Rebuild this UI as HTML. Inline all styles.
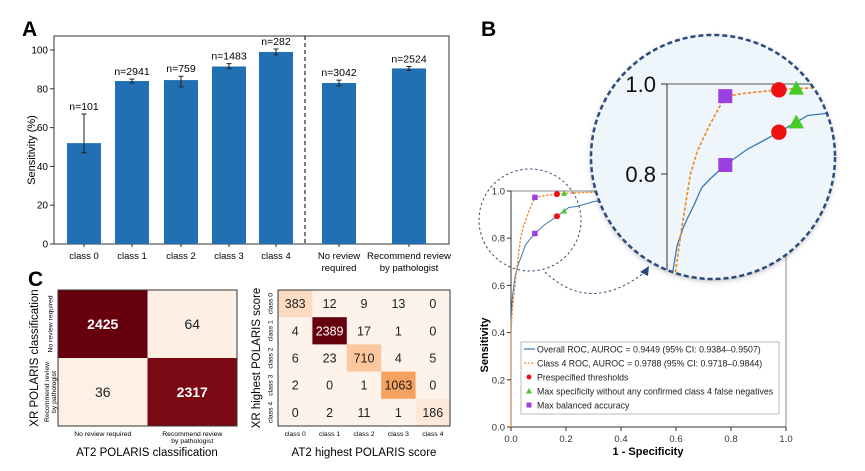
<!DOCTYPE html>
<html><head><meta charset="utf-8"><style>
html,body{margin:0;padding:0;background:#fff;width:865px;height:471px;overflow:hidden}
svg{display:block;font-family:"Liberation Sans","DejaVu Sans",sans-serif;overflow:hidden}
</style></head><body>
<svg id="fig" width="865" height="471" viewBox="0 0 865 471">
<defs>
<clipPath id="zoomClip"><circle cx="713" cy="157" r="122"/></clipPath>
<filter id="shadow" x="-10%" y="-10%" width="120%" height="120%"><feDropShadow dx="0" dy="2" stdDeviation="3" flood-color="#000" flood-opacity="0.25"/></filter>
</defs>
<g id="panelA">
<text x="22" y="36" font-size="21" font-weight="bold">A</text>
<rect x="54" y="36" width="395" height="208" fill="none" stroke="#333" stroke-width="1"/>
<g id="barsA"></g>
<line x1="305" y1="36" x2="305" y2="244" stroke="#222" stroke-width="1.2" stroke-dasharray="4,3"/>
<text transform="translate(35,150) rotate(-90)" text-anchor="middle" font-size="11">Sensitivity (%)</text>
</g>
<g id="panelC">
<text x="28" y="286" font-size="21" font-weight="bold">C</text>
<g id="cmLeft"></g>
<g id="cmRight"></g>
<text x="147" y="456" text-anchor="middle" font-size="11.5">AT2 POLARIS classification</text>
<text transform="translate(38,358) rotate(-90)" text-anchor="middle" font-size="11.5">XR POLARIS classification</text>
<text x="364" y="456" text-anchor="middle" font-size="11.5">AT2 highest POLARIS score</text>
<text transform="translate(260,358) rotate(-90)" text-anchor="middle" font-size="11.5">XR highest POLARIS score</text>
</g>
<g id="panelB">
<text x="481" y="36" font-size="21" font-weight="bold">B</text>
<g id="rocMain"></g>
<text x="648" y="455" text-anchor="middle" font-size="11" font-weight="bold">1 - Specificity</text>
<text transform="translate(488,345) rotate(-90)" text-anchor="middle" font-size="11" font-weight="bold">Sensitivity</text>
<circle cx="530" cy="220" r="51" fill="none" stroke="#3a4f7a" stroke-width="1" stroke-dasharray="2.5,2.5"/>
<path d="M545,272 Q590,315 645,272" fill="none" stroke="#3a4f7a" stroke-width="1" stroke-dasharray="2.5,2.5"/>
<polygon points="649,266 640,272 648,276" fill="#2c4a7c"/>
<g id="legendB">
<rect x="521" y="342" width="258" height="72" fill="#fff" stroke="#aaa" stroke-width="0.8"/>
<line x1="524" y1="349" x2="535" y2="349" stroke="#3c78b4" stroke-width="1.2"/>
<text x="537" y="352.5" font-size="8.8" fill="#222">Overall ROC, AUROC = 0.9449 (95% CI: 0.9384–0.9507)</text>
<line x1="524" y1="363" x2="535" y2="363" stroke="#f08a24" stroke-width="1.2" stroke-dasharray="2,1.5"/>
<text x="537" y="366.5" font-size="8.8" fill="#222">Class 4 ROC, AUROC = 0.9788 (95% CI: 0.9718–0.9844)</text>
<circle cx="529" cy="377" r="2.5" fill="#ee1111"/>
<text x="537" y="380.5" font-size="8.8" fill="#222">Prespecified thresholds</text>
<polygon points="529,388 532,393.5 526,393.5" fill="#44cc22"/>
<text x="537" y="394.5" font-size="8.8" fill="#222">Max specificity without any confirmed class 4 false negatives</text>
<rect x="526.5" y="402.5" width="5" height="5" fill="#9b3fe0"/>
<text x="537" y="408.5" font-size="8.8" fill="#222">Max balanced accuracy</text>
</g>
<g id="zoomG"></g>
</g>
</svg>
<script>
const barCategories = ["class 0","class 1","class 2","class 3","class 4","No review|required","Recommend review|by pathologist"];
const barValues = [52, 84, 84.5, 91.5, 99, 83, 90.5];
const barErrLow = [47, 83, 81, 90.5, 97.5, 81.5, 89.5];
const barErrHigh = [67, 85, 86.5, 93, 100.5, 84.5, 91.5];
const barCounts = ["n=101","n=2941","n=759","n=1483","n=282","n=3042","n=2524"];
const barYTicks = [0,20,40,60,80,100];
const cmLeftLabels = ["No review required","Recommend review|by pathologist"];
const cmLeftValues = [[2425,64],[36,2317]];
const cmRightLabels = ["class 0","class 1","class 2","class 3","class 4"];
const cmRightValues = [[383,12,9,13,0],[4,2389,17,1,0],[6,23,710,4,5],[2,0,1,1063,0],[0,2,11,1,186]];
const overallFpr = [0,0,0.005,0.015,0.024,0.03,0.04,0.052,0.065,0.087,0.12,0.145,0.167,0.193,0.21,0.24,0.3,0.4,0.55,0.7,1];
const overallTpr = [0,0.45,0.55,0.64,0.68,0.70,0.73,0.77,0.79,0.82,0.855,0.875,0.893,0.915,0.93,0.935,0.955,0.97,0.985,0.995,1];
const class4Fpr = [0,0,0.005,0.012,0.022,0.035,0.045,0.064,0.075,0.084,0.087,0.12,0.167,0.193,0.3,0.5,1];
const class4Tpr = [0,0.4,0.5,0.575,0.68,0.80,0.85,0.91,0.94,0.965,0.973,0.98,0.987,0.99,0.995,1,1];
const thresholdFpr = [0.167,0.167];
const thresholdTpr = [0.893,0.987];
const maxSpecFpr = [0.193,0.193];
const maxSpecTpr = [0.915,0.99];
const balancedFpr = [0.087,0.087];
const balancedTpr = [0.82,0.973];
const rocTicks = [0,0.2,0.4,0.6,0.8,1.0];
const zoomTicks = [0.8,1.0];

const NS="http://www.w3.org/2000/svg";
function mk(tag, attrs, parent){const e=document.createElementNS(NS,tag);for(const k in attrs)e.setAttribute(k,attrs[k]);if(parent)parent.appendChild(e);return e;}

(function(){
 const g=document.getElementById('barsA');
 const yA=v=>244-v*1.94;
 const centers=[84,132,181,229,276,339,409];
 const bw=34;
 barYTicks.forEach(t=>{
  const l=mk('line',{x1:50,x2:54,y1:yA(t),y2:yA(t),stroke:'#333'},g);
  
  
  const tx=mk('text',{x:48,y:yA(t)+3.5,'text-anchor':'end','font-size':10},g);
  tx.textContent=t;
  
  
 });
 barCategories.forEach((c,i)=>{
  const cx=centers[i];
  const r=mk('rect',{x:cx-bw/2,y:yA(barValues[i]),width:bw,height:yA(0)-yA(barValues[i]),fill:'#2270b4'},g);
  
  
  const e=mk('path',{d:`M${cx},${yA(barErrLow[i])}V${yA(barErrHigh[i])}M${cx-2.5},${yA(barErrLow[i])}h5M${cx-2.5},${yA(barErrHigh[i])}h5`,stroke:'#222','stroke-width':1,fill:'none'},g);
  
  
  const n=mk('text',{x:cx,y:yA(barErrHigh[i])-4,'text-anchor':'middle','font-size':10.5},g);
  n.textContent=barCounts[i];
  
  
  const tk=mk('line',{x1:cx,x2:cx,y1:244,y2:247,stroke:'#333'},g);
  
  
  c.split('|').forEach((ln,j)=>{
   const t=mk('text',{x:cx,y:259+j*12,'text-anchor':'middle','font-size':9.5},g);
   t.textContent=ln;
   
   
  });
 });
})();

const stops=[[0,[253,243,235]],[0.16,[251,220,195]],[0.3,[252,199,156]],[0.45,[245,160,94]],[0.7,[208,67,31]],[0.95,[126,10,21]],[1,[103,0,13]]];
function heat(f){
 for(let i=1;i<stops.length;i++){if(f<=stops[i][0]){const a=stops[i-1],b=stops[i];const t=(f-a[0])/(b[0]-a[0]);return 'rgb('+a[1].map((v,k)=>Math.round(v+(b[1][k]-v)*t)).join(',')+')';}}
 return 'rgb(103,0,13)';
}
function matrix(gid,vals,labels,x0,y0,w,h,fs,labFs,ylabX){
 const g=document.getElementById(gid);
 const n=vals.length,cw=w/n,ch=h/n;
 let mx=0;vals.forEach(r=>r.forEach(v=>mx=Math.max(mx,v)));
 vals.forEach((row,i)=>row.forEach((v,j)=>{
  const f=v/mx;
  const r=mk('rect',{x:x0+j*cw,y:y0+i*ch,width:cw+0.3,height:ch+0.3,fill:heat(f)},g);
  
  
  const t=mk('text',{x:x0+(j+0.5)*cw,y:y0+(i+0.5)*ch+fs*0.36,'text-anchor':'middle','font-size':fs,fill:f>0.6?'#fff':'#222','font-weight':f>0.6&&n===2?'bold':'normal'},g);
  t.textContent=v;
  
  
 }));
 const fr=mk('rect',{x:x0,y:y0,width:w,height:h,fill:'none',stroke:'#333','stroke-width':1},g);
 
 
 labels.forEach((lab,j)=>{
  const lines=lab.split('|');
  lines.forEach((ln,k)=>{
   const t=mk('text',{x:x0+(j+0.5)*cw,y:y0+h+10+k*7,'text-anchor':'middle','font-size':labFs},g);
   t.textContent=ln;
   
   
   const yy=y0+(j+0.5)*ch;
   const off=(k-(lines.length-1)/2)*7;
   const t2=mk('text',{transform:`translate(${ylabX+off+2.5},${yy}) rotate(-90)`,'text-anchor':'middle','font-size':labFs},g);
   t2.textContent=ln;
   
   
  });
 });
}
matrix('cmLeft',cmLeftValues,cmLeftLabels,58,290,179,136,14,6.8,50);
matrix('cmRight',cmRightValues,cmRightLabels,278,290,172,136,12.5,6.8,270);

// clip a monotonic ROC polyline to a data window [0,fmax] x [tmin,1]
function clipCurve(fpr,tpr,fmax,tmin){
 const out=[];
 for(let i=0;i<fpr.length;i++){
  const f=fpr[i],t=tpr[i];
  const inside=f<=fmax&&t>=tmin;
  if(i>0){
   const pf=fpr[i-1],pt=tpr[i-1];
   const pin=pf<=fmax&&pt>=tmin;
   if(!pin&&inside&&pt<tmin){const u=(tmin-pt)/(t-pt);out.push([pf+(f-pf)*u,tmin]);}
   if(pin&&!inside&&f>fmax){const u=(fmax-pf)/(f-pf);out.push([fmax,pt+(t-pt)*u]);}
  }
  if(inside)out.push([f,t]);
 }
 return out;
}

(function(){
 const g=document.getElementById('rocMain');
 const X=v=>511+v*275, Y=v=>427-v*236;
 mk('rect',{x:511,y:Y(1),width:275,height:236,fill:'none',stroke:'#888','stroke-width':1},g);
 mk('line',{x1:511,y1:Y(1),x2:511,y2:427,stroke:'#333','stroke-width':1},g);
 mk('line',{x1:511,y1:427,x2:786,y2:427,stroke:'#333','stroke-width':1},g);
 rocTicks.forEach(t=>{
  mk('line',{x1:507,x2:511,y1:Y(t),y2:Y(t),stroke:'#333'},g);
  const a=mk('text',{x:505,y:Y(t)+3.5,'text-anchor':'end','font-size':9.5,fill:'#333'},g);
  a.textContent=t.toFixed(1);
  
  
  mk('line',{x1:X(t),x2:X(t),y1:427,y2:431,stroke:'#333'},g);
  const b=mk('text',{x:X(t),y:442,'text-anchor':'middle','font-size':9.5,fill:'#333'},g);
  b.textContent=t.toFixed(1);
  
  
 });
 function curves(gg,X,Y,sw,ms,win){
  const o=win?clipCurve(overallFpr,overallTpr,win[0],win[1]):overallFpr.map((f,i)=>[f,overallTpr[i]]);
  const c4=win?clipCurve(class4Fpr,class4Tpr,win[0],win[1]):class4Fpr.map((f,i)=>[f,class4Tpr[i]]);
  const p1=mk('polyline',{points:o.map(p=>X(p[0])+','+Y(p[1])).join(' '),fill:'none',stroke:'#3c78b4','stroke-width':sw},gg);
  
  
  const p2=mk('polyline',{points:c4.map(p=>X(p[0])+','+Y(p[1])).join(' '),fill:'none',stroke:'#f08a24','stroke-width':sw*1.3,'stroke-dasharray':(sw*2.5)+','+(sw*1.5)},gg);
  
  
  thresholdFpr.forEach((f,i)=>{
   const c=mk('circle',{cx:X(f),cy:Y(thresholdTpr[i]),r:ms*0.55,fill:'#ee1111'},gg);
   
   
  });
  maxSpecFpr.forEach((f,i)=>{
   const x=X(f),y=Y(maxSpecTpr[i]),s=ms*0.55;
   const p=mk('polygon',{points:`${x},${y-s} ${x+s},${y+s*0.8} ${x-s},${y+s*0.8}`,fill:'#44cc22'},gg);
   
   
  });
  balancedFpr.forEach((f,i)=>{
   const s=ms*0.5;
   const r=mk('rect',{x:X(f)-s,y:Y(balancedTpr[i])-s,width:2*s,height:2*s,fill:'#9b3fe0'},gg);
   
   
  });
 }
 curves(g,X,Y,1,5.5,null);
 const z=document.getElementById('zoomG');
 const bg=mk('circle',{cx:713,cy:157,r:122,fill:'#eef5fb',filter:'url(#shadow)'},z);
 
 
 const inner=mk('g',{'clip-path':'url(#zoomClip)'},z);
 const ZX=v=>667+v*670, ZY=v=>84+(1-v)*450;
 mk('line',{x1:667,y1:84,x2:836,y2:84,stroke:'#555','stroke-width':1},inner);
 mk('line',{x1:667,y1:84,x2:667,y2:280,stroke:'#333','stroke-width':1},inner);
 zoomTicks.forEach(t=>{
  mk('line',{x1:661,x2:667,y1:ZY(t),y2:ZY(t),stroke:'#333'},inner);
  const a=mk('text',{x:656,y:ZY(t)+8,'text-anchor':'end','font-size':22,fill:'#111'},inner);
  a.textContent=t.toFixed(1);
  
  
 });
 const cg=mk('g',{},inner);
 curves(cg,ZX,ZY,1.3,14,[0.26,0.57]);
 const ring=mk('circle',{cx:713,cy:157,r:122,fill:'none',stroke:'#2c4a7c','stroke-width':2.5,'stroke-dasharray':'5,3'},z);
 
 
})();
</script>
</body></html>
